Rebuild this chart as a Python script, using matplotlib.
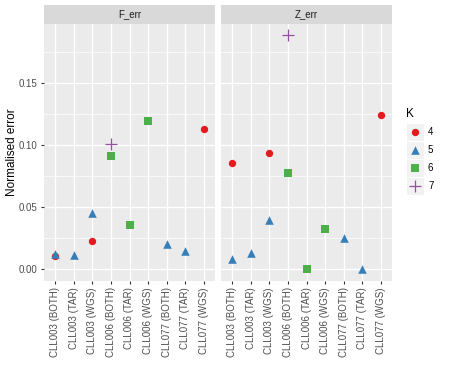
import numpy as np
import matplotlib.pyplot as plt
from matplotlib.patches import Rectangle

plt.rcParams['font.family'] = ['Liberation Sans', 'DejaVu Sans']

samples = ["CLL003 (BOTH)", "CLL003 (TAR)", "CLL003 (WGS)",
           "CLL006 (BOTH)", "CLL006 (TAR)", "CLL006 (WGS)",
           "CLL077 (BOTH)", "CLL077 (TAR)", "CLL077 (WGS)"]
facets = ["F_err", "Z_err"]

# (sample index, K) per facet
f_sample = [0, 0, 1, 2, 2, 3, 3, 4, 5, 6, 7, 8]
f_k = [4, 5, 5, 5, 4, 7, 6, 6, 6, 5, 5, 4]
f_val = [0.011, 0.0125, 0.0113, 0.0457, 0.0228, 0.101, 0.0911, 0.0357, 0.1194, 0.0204, 0.015, 0.1134]

z_sample = [0, 0, 1, 2, 2, 3, 3, 4, 5, 6, 7, 8]
z_k = [4, 5, 5, 4, 5, 7, 6, 6, 6, 5, 5, 4]
z_val = [0.0855, 0.0083, 0.0129, 0.0935, 0.0398, 0.189, 0.0774, 0.0, 0.0328, 0.0255, 0.0, 0.1244]

k_levels = [4, 5, 6, 7]
k_colors = {4: "#E41A1C", 5: "#377EB8", 6: "#4DAF4A", 7: "#984EA3"}
k_markers = {4: "o", 5: "^", 6: "s", 7: "+"}
k_sizes = {4: 28, 5: 38, 6: 28, 7: 75}

fig = plt.figure(figsize=(4.5, 3.75), dpi=100)

W, H = 450, 375
panel_bottom = 1 - 281 / H
panel_h = (281 - 24) / H
strip_h = 19 / H
lefts = [44 / W, 221 / W]
w = 171 / W

data = {"F_err": (f_sample, f_k, f_val), "Z_err": (z_sample, z_k, z_val)}


def draw_points(ax, xs, ks, vs, k):
    px = [x for x, kk in zip(xs, ks) if kk == k]
    py = [v for v, kk in zip(vs, ks) if kk == k]
    if k == 7:
        ax.scatter(px, py, marker="+", s=k_sizes[k], c=k_colors[k], linewidths=0.9, zorder=3)
    else:
        ax.scatter(px, py, marker=k_markers[k], s=k_sizes[k], c=k_colors[k], linewidths=0, zorder=3)


for i, name in enumerate(facets):
    ax = fig.add_axes([lefts[i], panel_bottom, w, panel_h])
    ax.set_facecolor("#EBEBEB")
    for s in ax.spines.values():
        s.set_visible(False)
    ax.set_xlim(-0.6, len(samples) - 0.4)
    ax.set_ylim(-0.0094, 0.1978)
    ax.set_yticks([0.0, 0.05, 0.10, 0.15])
    ax.set_yticks([0.025, 0.075, 0.125, 0.175], minor=True)
    ax.grid(True, which="major", color="white", lw=1.0)
    ax.grid(True, which="minor", axis="y", color="white", lw=0.5)
    ax.set_axisbelow(True)
    ax.set_xticks(range(len(samples)))
    ax.set_xticklabels(samples, rotation=90, fontsize=7, color="#4D4D4D")
    ax.tick_params(axis="both", which="major", length=2.5, width=0.8, color="#333333", pad=2)
    ax.tick_params(axis="y", which="minor", length=0)
    if i == 0:
        ax.set_yticklabels(["0.00", "0.05", "0.10", "0.15"], fontsize=7, color="#4D4D4D")
    else:
        ax.tick_params(axis="y", which="major", length=0, labelleft=False)
    xs, ks, vs = data[name]
    for k in k_levels:
        draw_points(ax, xs, ks, vs, k)
    # facet strip
    sax = fig.add_axes([lefts[i], panel_bottom + panel_h, w, strip_h])
    sax.set_facecolor("#D9D9D9")
    sax.set_xticks([])
    sax.set_yticks([])
    for s in sax.spines.values():
        s.set_visible(False)
    sax.text(0.5, 0.5, name, ha="center", va="center", fontsize=7, color="#1A1A1A",
             transform=sax.transAxes)

fig.text(12 / W, 1 - 152 / H, "Normalised error", rotation=90, ha="center", va="center",
         fontsize=8.5, color="black")

# legend drawn in its own pixel-space axes
lax = fig.add_axes([398 / W, 1 - 200 / H, 52 / W, 100 / H])
lax.set_xlim(398, 450)
lax.set_ylim(200, 100)
lax.axis("off")
lax.text(406, 114, "K", ha="left", va="center", fontsize=8.5)
for j, k in enumerate(k_levels):
    cy = 132 + 18 * j
    lax.add_patch(Rectangle((406.5, cy - 8.5), 17, 17, facecolor="#F2F2F2", edgecolor="none"))
    draw_points(lax, [415], [k], [cy], k)
    lax.text(428, cy, str(k), ha="left", va="center", fontsize=7)

fig.savefig("out.png", dpi=100)
